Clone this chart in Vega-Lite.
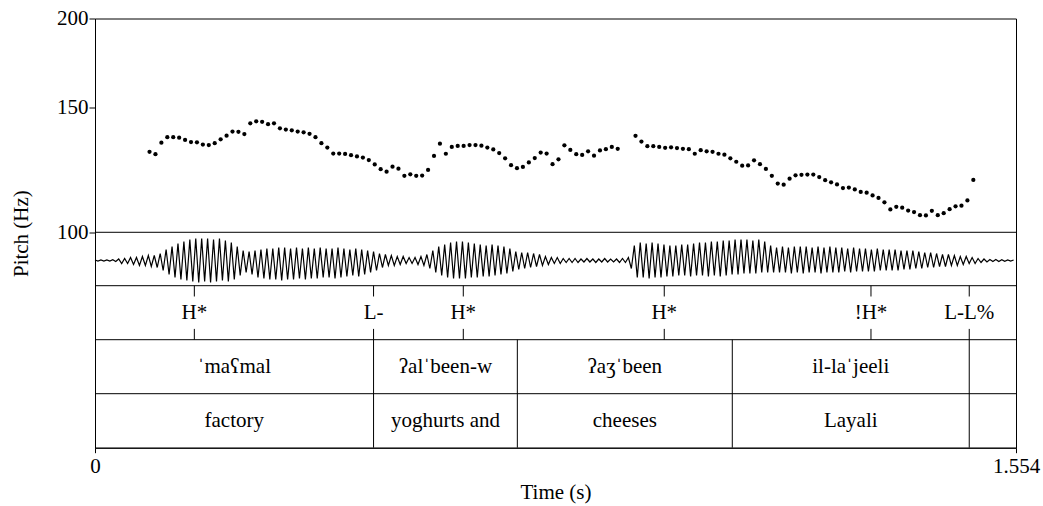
{
  "$schema": "https://vega.github.io/schema/vega-lite/v6.json",
  "width": 921,
  "height": 429.2,
  "autosize": {"type": "none"},
  "padding": {"left": 95, "top": 18.5, "right": 27, "bottom": 58.3},
  "background": "white",
  "config": {
    "view": {"stroke": "#000", "strokeWidth": 1},
    "font": "Liberation Serif",
    "axis": {"labelFont": "Liberation Serif", "titleFont": "Liberation Serif", "labelColor": "#000", "titleColor": "#000", "domainColor": "#000", "tickColor": "#000", "labelFontSize": 21, "titleFontSize": 21, "titleFontWeight": "normal", "grid": false}
  },
  "datasets": {
    "pitch": [
      {"t":0.092,"f":129.8},{"t":0.102,"f":128.8},{"t":0.112,"f":133.7},{"t":0.122,"f":136.1},{"t":0.132,"f":136.1},{"t":0.142,"f":135.9},{"t":0.152,"f":134.9},{"t":0.162,"f":134.0},{"t":0.172,"f":133.9},{"t":0.182,"f":132.9},
      {"t":0.192,"f":132.7},{"t":0.202,"f":133.5},{"t":0.212,"f":135.2},{"t":0.222,"f":136.8},{"t":0.232,"f":138.6},{"t":0.242,"f":138.5},{"t":0.252,"f":137.5},{"t":0.262,"f":142.4},{"t":0.272,"f":143.3},{"t":0.282,"f":143.1},
      {"t":0.292,"f":142.0},{"t":0.302,"f":142.4},{"t":0.312,"f":140.1},{"t":0.322,"f":139.5},{"t":0.332,"f":139.2},{"t":0.342,"f":138.6},{"t":0.352,"f":138.3},{"t":0.362,"f":137.6},{"t":0.372,"f":136.1},{"t":0.382,"f":133.5},
      {"t":0.392,"f":131.6},{"t":0.402,"f":129.1},{"t":0.412,"f":129.1},{"t":0.422,"f":128.9},{"t":0.432,"f":128.4},{"t":0.442,"f":127.9},{"t":0.452,"f":127.4},{"t":0.462,"f":126.4},{"t":0.472,"f":124.6},{"t":0.482,"f":122.7},
      {"t":0.492,"f":121.7},{"t":0.502,"f":123.7},{"t":0.512,"f":122.9},{"t":0.522,"f":120.1},{"t":0.532,"f":120.7},{"t":0.542,"f":120.1},{"t":0.552,"f":120.2},{"t":0.562,"f":122.4},{"t":0.572,"f":128.1},{"t":0.582,"f":133.3},
      {"t":0.592,"f":129.0},{"t":0.602,"f":131.9},{"t":0.612,"f":132.3},{"t":0.622,"f":132.3},{"t":0.632,"f":132.7},{"t":0.642,"f":132.7},{"t":0.652,"f":132.4},{"t":0.662,"f":131.6},{"t":0.672,"f":130.8},{"t":0.682,"f":129.3},
      {"t":0.692,"f":127.1},{"t":0.702,"f":124.3},{"t":0.712,"f":123.1},{"t":0.722,"f":123.6},{"t":0.732,"f":125.4},{"t":0.742,"f":127.2},{"t":0.752,"f":129.5},{"t":0.762,"f":129.1},{"t":0.772,"f":124.7},{"t":0.782,"f":126.7},
      {"t":0.792,"f":132.6},{"t":0.802,"f":130.6},{"t":0.812,"f":128.8},{"t":0.822,"f":128.5},{"t":0.832,"f":130.0},{"t":0.842,"f":128.2},{"t":0.852,"f":130.4},{"t":0.862,"f":130.9},{"t":0.872,"f":131.9},{"t":0.882,"f":131.1},
      {"t":0.912,"f":136.7},{"t":0.922,"f":134.2},{"t":0.932,"f":132.2},{"t":0.942,"f":132.2},{"t":0.952,"f":131.9},{"t":0.962,"f":131.5},{"t":0.972,"f":131.7},{"t":0.982,"f":131.4},{"t":0.992,"f":131.1},{"t":1.002,"f":130.9},
      {"t":1.012,"f":129.0},{"t":1.022,"f":130.5},{"t":1.032,"f":130.0},{"t":1.042,"f":129.8},{"t":1.052,"f":129.0},{"t":1.062,"f":128.6},{"t":1.072,"f":127.1},{"t":1.082,"f":125.7},{"t":1.092,"f":124.1},{"t":1.102,"f":124.2},
      {"t":1.112,"f":126.3},{"t":1.122,"f":124.7},{"t":1.132,"f":122.8},{"t":1.142,"f":120.1},{"t":1.152,"f":117.1},{"t":1.162,"f":116.7},{"t":1.172,"f":119.0},{"t":1.182,"f":120.3},{"t":1.192,"f":120.5},{"t":1.202,"f":120.6},
      {"t":1.212,"f":120.6},{"t":1.222,"f":119.6},{"t":1.232,"f":118.4},{"t":1.242,"f":117.6},{"t":1.252,"f":116.8},{"t":1.262,"f":115.4},{"t":1.272,"f":115.6},{"t":1.282,"f":114.9},{"t":1.292,"f":114.0},{"t":1.302,"f":113.7},
      {"t":1.312,"f":112.7},{"t":1.322,"f":111.8},{"t":1.332,"f":110.2},{"t":1.342,"f":107.7},{"t":1.352,"f":108.6},{"t":1.362,"f":108.3},{"t":1.372,"f":107.3},{"t":1.382,"f":106.8},{"t":1.392,"f":105.7},{"t":1.402,"f":105.6},
      {"t":1.412,"f":107.2},{"t":1.422,"f":105.7},{"t":1.432,"f":106.4},{"t":1.442,"f":107.8},{"t":1.452,"f":108.8},{"t":1.462,"f":109.0},{"t":1.472,"f":110.9},{"t":1.482,"f":118.5}
    ],
    "wave": [
      {"t":0.000,"a":0.5},{"t":0.005,"a":-0.5},{"t":0.010,"a":0.5},{"t":0.015,"a":-0.5},{"t":0.020,"a":0.6},{"t":0.025,"a":-0.6},{"t":0.030,"a":0.8},{"t":0.035,"a":-1},{"t":0.040,"a":1.5},{"t":0.045,"a":-3},
      {"t":0.050,"a":2},{"t":0.055,"a":-3},{"t":0.060,"a":3},{"t":0.065,"a":-4},{"t":0.070,"a":3},{"t":0.075,"a":-5},{"t":0.080,"a":4},{"t":0.085,"a":-5},{"t":0.090,"a":5},{"t":0.095,"a":-6},
      {"t":0.100,"a":5},{"t":0.105,"a":-7},{"t":0.110,"a":7},{"t":0.115,"a":-10},{"t":0.120,"a":11},{"t":0.125,"a":-14},{"t":0.130,"a":14},{"t":0.135,"a":-17},{"t":0.140,"a":17},{"t":0.145,"a":-19},
      {"t":0.150,"a":19},{"t":0.155,"a":-20},{"t":0.160,"a":21},{"t":0.165,"a":-21},{"t":0.170,"a":22},{"t":0.175,"a":-22},{"t":0.180,"a":22},{"t":0.185,"a":-21},{"t":0.190,"a":22},{"t":0.195,"a":-22},
      {"t":0.200,"a":21},{"t":0.205,"a":-21},{"t":0.210,"a":22},{"t":0.215,"a":-20},{"t":0.220,"a":20},{"t":0.225,"a":-21},{"t":0.230,"a":18},{"t":0.235,"a":-19},{"t":0.240,"a":14},{"t":0.245,"a":-15},
      {"t":0.250,"a":10},{"t":0.255,"a":-12},{"t":0.260,"a":9},{"t":0.265,"a":-14},{"t":0.270,"a":10},{"t":0.275,"a":-17},{"t":0.280,"a":11},{"t":0.285,"a":-18},{"t":0.290,"a":12},{"t":0.295,"a":-19},
      {"t":0.300,"a":12},{"t":0.305,"a":-19},{"t":0.310,"a":13},{"t":0.315,"a":-20},{"t":0.320,"a":13},{"t":0.325,"a":-19},{"t":0.330,"a":12},{"t":0.335,"a":-19},{"t":0.340,"a":13},{"t":0.345,"a":-18},
      {"t":0.350,"a":12},{"t":0.355,"a":-19},{"t":0.360,"a":13},{"t":0.365,"a":-18},{"t":0.370,"a":12},{"t":0.375,"a":-18},{"t":0.380,"a":13},{"t":0.385,"a":-17},{"t":0.390,"a":12},{"t":0.395,"a":-17},
      {"t":0.400,"a":12},{"t":0.405,"a":-18},{"t":0.410,"a":13},{"t":0.415,"a":-17},{"t":0.420,"a":12},{"t":0.425,"a":-16},{"t":0.430,"a":11},{"t":0.435,"a":-15},{"t":0.440,"a":12},{"t":0.445,"a":-16},
      {"t":0.450,"a":11},{"t":0.455,"a":-14},{"t":0.460,"a":10},{"t":0.465,"a":-12},{"t":0.470,"a":9},{"t":0.475,"a":-10},{"t":0.480,"a":7},{"t":0.485,"a":-7},{"t":0.490,"a":6},{"t":0.495,"a":-5},
      {"t":0.500,"a":5},{"t":0.505,"a":-5},{"t":0.510,"a":4},{"t":0.515,"a":-4},{"t":0.520,"a":4},{"t":0.525,"a":-3},{"t":0.530,"a":3},{"t":0.535,"a":-3},{"t":0.540,"a":3},{"t":0.545,"a":-4},
      {"t":0.550,"a":4},{"t":0.555,"a":-5},{"t":0.560,"a":6},{"t":0.565,"a":-8},{"t":0.570,"a":10},{"t":0.575,"a":-12},{"t":0.580,"a":14},{"t":0.585,"a":-15},{"t":0.590,"a":16},{"t":0.595,"a":-17},
      {"t":0.600,"a":18},{"t":0.605,"a":-18},{"t":0.610,"a":19},{"t":0.615,"a":-18},{"t":0.620,"a":19},{"t":0.625,"a":-18},{"t":0.630,"a":18},{"t":0.635,"a":-17},{"t":0.640,"a":17},{"t":0.645,"a":-17},
      {"t":0.650,"a":16},{"t":0.655,"a":-16},{"t":0.660,"a":15},{"t":0.665,"a":-16},{"t":0.670,"a":16},{"t":0.675,"a":-15},{"t":0.680,"a":15},{"t":0.685,"a":-14},{"t":0.690,"a":14},{"t":0.695,"a":-13},
      {"t":0.700,"a":12},{"t":0.705,"a":-11},{"t":0.710,"a":9},{"t":0.715,"a":-9},{"t":0.720,"a":8},{"t":0.725,"a":-8},{"t":0.730,"a":8},{"t":0.735,"a":-7},{"t":0.740,"a":7},{"t":0.745,"a":-6},
      {"t":0.750,"a":6},{"t":0.755,"a":-5},{"t":0.760,"a":4},{"t":0.765,"a":-4},{"t":0.770,"a":3},{"t":0.775,"a":-3},{"t":0.780,"a":3},{"t":0.785,"a":-3},{"t":0.790,"a":2},{"t":0.795,"a":-2},
      {"t":0.800,"a":2},{"t":0.805,"a":-2},{"t":0.810,"a":2},{"t":0.815,"a":-2},{"t":0.820,"a":1.5},{"t":0.825,"a":-1.5},{"t":0.830,"a":2},{"t":0.835,"a":-1.5},{"t":0.840,"a":1.5},{"t":0.845,"a":-2},
      {"t":0.850,"a":1.5},{"t":0.855,"a":-1.5},{"t":0.860,"a":2},{"t":0.865,"a":-1.5},{"t":0.870,"a":1.5},{"t":0.875,"a":-1.5},{"t":0.880,"a":1.5},{"t":0.885,"a":-2},{"t":0.890,"a":2},{"t":0.895,"a":-2},
      {"t":0.900,"a":3},{"t":0.905,"a":-8},{"t":0.910,"a":15},{"t":0.915,"a":-17},{"t":0.920,"a":18},{"t":0.925,"a":-17},{"t":0.930,"a":17},{"t":0.935,"a":-18},{"t":0.940,"a":18},{"t":0.945,"a":-17},
      {"t":0.950,"a":17},{"t":0.955,"a":-17},{"t":0.960,"a":16},{"t":0.965,"a":-16},{"t":0.970,"a":15},{"t":0.975,"a":-16},{"t":0.980,"a":15},{"t":0.985,"a":-15},{"t":0.990,"a":16},{"t":0.995,"a":-15},
      {"t":1.000,"a":16},{"t":1.005,"a":-16},{"t":1.010,"a":17},{"t":1.015,"a":-15},{"t":1.020,"a":18},{"t":1.025,"a":-15},{"t":1.030,"a":18},{"t":1.035,"a":-16},{"t":1.040,"a":19},{"t":1.045,"a":-15},
      {"t":1.050,"a":19},{"t":1.055,"a":-16},{"t":1.060,"a":20},{"t":1.065,"a":-15},{"t":1.070,"a":20},{"t":1.075,"a":-14},{"t":1.080,"a":21},{"t":1.085,"a":-14},{"t":1.090,"a":21},{"t":1.095,"a":-13},
      {"t":1.100,"a":21},{"t":1.105,"a":-13},{"t":1.110,"a":20},{"t":1.115,"a":-13},{"t":1.120,"a":21},{"t":1.125,"a":-12},{"t":1.130,"a":19},{"t":1.135,"a":-12},{"t":1.140,"a":15},{"t":1.145,"a":-12},
      {"t":1.150,"a":13},{"t":1.155,"a":-12},{"t":1.160,"a":14},{"t":1.165,"a":-12},{"t":1.170,"a":13},{"t":1.175,"a":-13},{"t":1.180,"a":14},{"t":1.185,"a":-12},{"t":1.190,"a":14},{"t":1.195,"a":-13},
      {"t":1.200,"a":14},{"t":1.205,"a":-12},{"t":1.210,"a":13},{"t":1.215,"a":-12},{"t":1.220,"a":14},{"t":1.225,"a":-13},{"t":1.230,"a":13},{"t":1.235,"a":-12},{"t":1.240,"a":14},{"t":1.245,"a":-12},
      {"t":1.250,"a":13},{"t":1.255,"a":-12},{"t":1.260,"a":13},{"t":1.265,"a":-11},{"t":1.270,"a":12},{"t":1.275,"a":-12},{"t":1.280,"a":13},{"t":1.285,"a":-11},{"t":1.290,"a":12},{"t":1.295,"a":-11},
      {"t":1.300,"a":12},{"t":1.305,"a":-11},{"t":1.310,"a":11},{"t":1.315,"a":-11},{"t":1.320,"a":12},{"t":1.325,"a":-10},{"t":1.330,"a":11},{"t":1.335,"a":-10},{"t":1.340,"a":11},{"t":1.345,"a":-10},
      {"t":1.350,"a":11},{"t":1.355,"a":-10},{"t":1.360,"a":10},{"t":1.365,"a":-9},{"t":1.370,"a":10},{"t":1.375,"a":-9},{"t":1.380,"a":10},{"t":1.385,"a":-8},{"t":1.390,"a":9},{"t":1.395,"a":-8},
      {"t":1.400,"a":8},{"t":1.405,"a":-7},{"t":1.410,"a":8},{"t":1.415,"a":-7},{"t":1.420,"a":7},{"t":1.425,"a":-6},{"t":1.430,"a":6},{"t":1.435,"a":-6},{"t":1.440,"a":6},{"t":1.445,"a":-5},
      {"t":1.450,"a":5},{"t":1.455,"a":-5},{"t":1.460,"a":4},{"t":1.465,"a":-4},{"t":1.470,"a":4},{"t":1.475,"a":-3},{"t":1.480,"a":3},{"t":1.485,"a":-3},{"t":1.490,"a":2},{"t":1.495,"a":-2},
      {"t":1.500,"a":1.5},{"t":1.505,"a":-1.5},{"t":1.510,"a":1},{"t":1.515,"a":-1},{"t":1.520,"a":1},{"t":1.525,"a":-1},{"t":1.530,"a":0.8},{"t":1.535,"a":-0.8},{"t":1.540,"a":0.6},{"t":1.545,"a":-0.6},
      {"t":1.550,"a":0.5}
    ],
    "tones": [
      {"t":0.1676,"label":"H*"},{"t":0.470,"label":"L-"},{"t":0.6214,"label":"H*"},{"t":0.9605,"label":"H*"},{"t":1.3093,"label":"!H*"},{"t":1.4751,"label":"L-L%"}
    ],
    "intervals": [
      {"tier":2,"label":"ˈmaʕmal","xmin":0,"xmax":0.470},
      {"tier":2,"label":"ʔalˈbeen-w","xmin":0.470,"xmax":0.7126},
      {"tier":2,"label":"ʔaʒˈbeen","xmin":0.7126,"xmax":1.0753},
      {"tier":2,"label":"il-laˈjeeli","xmin":1.0753,"xmax":1.4751},
      {"tier":2,"label":"","xmin":1.4751,"xmax":1.554},
      {"tier":3,"label":"factory","xmin":0,"xmax":0.470},
      {"tier":3,"label":"yoghurts and","xmin":0.470,"xmax":0.7126},
      {"tier":3,"label":"cheeses","xmin":0.7126,"xmax":1.0753},
      {"tier":3,"label":"Layali","xmin":1.0753,"xmax":1.4751},
      {"tier":3,"label":" ","xmin":1.4751,"xmax":1.554}
    ]
  },
  "layer": [
    {
      "layer": [
        {
          "data": {"name": "pitch"},
          "mark": {"type": "point", "filled": true, "color": "#000", "size": 18, "opacity": 1},
          "encoding": {
            "x": {"field": "t", "type": "quantitative", "scale": {"domain": [0, 1.554], "nice": false, "zero": false},
              "axis": {"values": [0, 1.554], "format": ".3~f", "title": "Time (s)", "labelFlush": false, "tickSize": 5, "labelPadding": 3, "titleY": 45, "titleBaseline": "middle", "labelOverlap": false}},
            "y": {"field": "f", "type": "quantitative", "scale": {"type": "log", "domain": [49.74, 200], "nice": false},
              "axis": {"values": [100, 150, 200], "format": "d", "title": "Pitch (Hz)", "tickSize": 6, "labelPadding": 1, "titleX": -74, "titleY": 214.6, "titleAngle": 270, "titleBaseline": "middle", "titleAlign": "center", "labelOverlap": false}}
          }
        },
        {
          "data": {"values": [{}]},
          "mark": {"type": "rule", "color": "#000", "strokeWidth": 1},
          "encoding": {"y": {"datum": 100, "type": "quantitative"}}
        }
      ]
    },
    {
      "data": {"name": "wave"},
      "mark": {"type": "line", "color": "#000", "strokeWidth": 1.2, "interpolate": "linear"},
      "encoding": {
        "x": {"field": "t", "type": "quantitative"},
        "y": {"field": "a", "type": "quantitative", "scale": {"domain": [-187.2, 242], "nice": false, "zero": false}, "axis": null}
      }
    },
    {
      "layer": [
        {
          "data": {"values": [{}]},
          "mark": {"type": "rule", "color": "#000", "strokeWidth": 1},
          "encoding": {"y": {"datum": 0.5, "type": "quantitative", "scale": {"domain": [-4.448, 3.5], "reverse": true, "nice": false, "zero": false}, "axis": null}}
        },
        {
          "data": {"values": [{}]},
          "mark": {"type": "rule", "color": "#000", "strokeWidth": 1},
          "encoding": {"y": {"datum": 1.5, "type": "quantitative"}}
        },
        {
          "data": {"values": [{}]},
          "mark": {"type": "rule", "color": "#000", "strokeWidth": 1},
          "encoding": {"y": {"datum": 2.5, "type": "quantitative"}}
        },
        {
          "data": {"name": "intervals"},
          "transform": [{"filter": "datum.tier == 2 && datum.xmin > 0"}],
          "mark": {"type": "rule", "color": "#000", "strokeWidth": 1},
          "encoding": {
            "x": {"field": "xmin", "type": "quantitative"},
            "y": {"datum": 1.5, "type": "quantitative"},
            "y2": {"datum": 3.5}
          }
        },
        {
          "data": {"name": "tones"},
          "mark": {"type": "rule", "color": "#000", "strokeWidth": 1},
          "encoding": {
            "x": {"field": "t", "type": "quantitative"},
            "y": {"datum": 0.5, "type": "quantitative"},
            "y2": {"datum": 0.7}
          }
        },
        {
          "data": {"name": "tones"},
          "mark": {"type": "rule", "color": "#000", "strokeWidth": 1},
          "encoding": {
            "x": {"field": "t", "type": "quantitative"},
            "y": {"datum": 1.3, "type": "quantitative"},
            "y2": {"datum": 1.5}
          }
        },
        {
          "data": {"name": "tones"},
          "mark": {"type": "text", "font": "Liberation Serif", "fontSize": 21, "color": "#000", "align": "center", "baseline": "middle"},
          "encoding": {
            "x": {"field": "t", "type": "quantitative"},
            "y": {"datum": 1, "type": "quantitative"},
            "text": {"field": "label"}
          }
        },
        {
          "data": {"name": "intervals"},
          "transform": [
            {"fold": ["xmin", "xmax"], "as": ["edge", "time"]},
            {"aggregate": [{"op": "mean", "field": "time", "as": "mid"}], "groupby": ["tier", "label"]}
          ],
          "mark": {"type": "text", "font": "Liberation Serif, DejaVu Serif", "fontSize": 21, "color": "#000", "align": "center", "baseline": "middle"},
          "encoding": {
            "x": {"field": "mid", "type": "quantitative"},
            "y": {"field": "tier", "type": "quantitative"},
            "text": {"field": "label"}
          }
        }
      ]
    }
  ],
  "resolve": {"scale": {"y": "independent"}, "axis": {"y": "independent"}}
}
